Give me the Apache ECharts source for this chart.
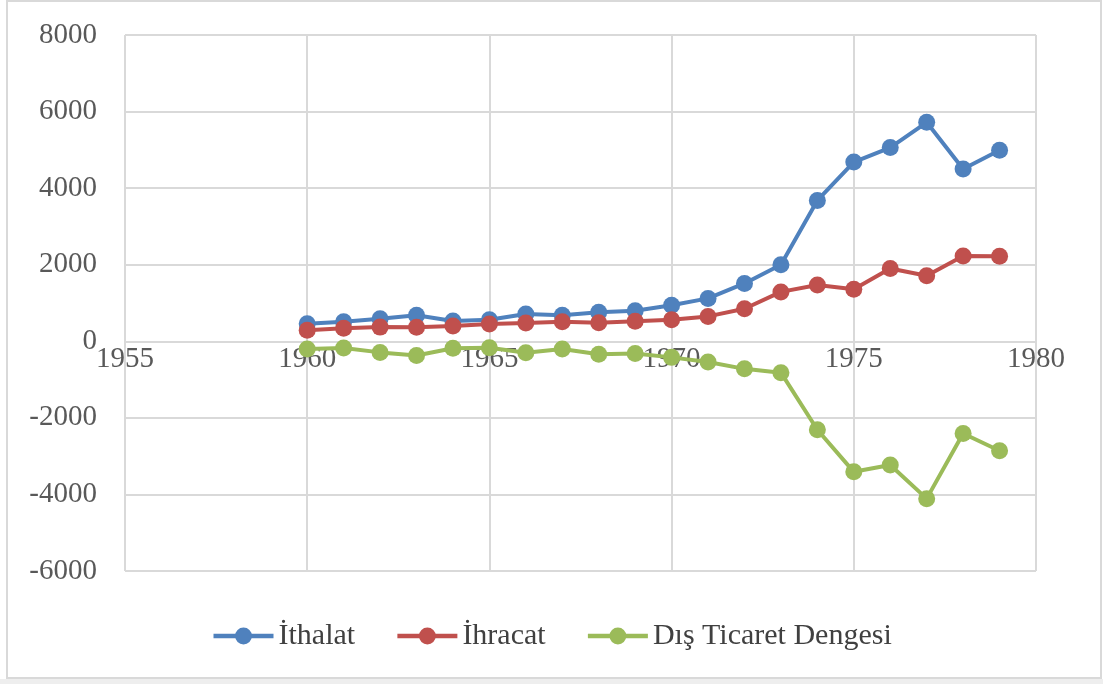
<!DOCTYPE html>
<html>
<head>
<meta charset="utf-8">
<script src="https://cdn.jsdelivr.net/npm/echarts@6/dist/echarts.min.js"></script>
<style>
  html, body { margin: 0; padding: 0; background: #fff; }
  #strip { position: absolute; left: 0; top: 679px; width: 1103px; height: 5px; background: #eeeeee; }
  #frame {
    position: absolute; left: 6px; top: 0; width: 1096px; height: 679px;
    box-sizing: border-box; border: 2px solid #d9d9d9; background: #fff;
  }
  #main { position: absolute; left: 0; top: 0; width: 1103px; height: 684px; }
</style>
</head>
<body>
<div id="strip"></div>
<div id="frame"></div>
<div id="main"></div>
<script>
  // years and values (million $)
  const years = [1960, 1961, 1962, 1963, 1964, 1965, 1966, 1967, 1968, 1969,
                 1970, 1971, 1972, 1973, 1974, 1975, 1976, 1977, 1978, 1979];
  const ithalat = [460, 510, 590, 680, 530, 565, 715, 680, 760, 800,
                   940, 1120, 1510, 2000, 3680, 4680, 5060, 5720, 4500, 4990];
  const ihracat = [290, 340, 370, 368, 400, 450, 475, 510, 485, 525,
                   560, 650, 850, 1290, 1470, 1360, 1900, 1710, 2230, 2220];
  const denge = [-200, -175, -290, -370, -180, -170, -300, -200, -340, -320,
                 -420, -540, -720, -820, -2310, -3410, -3230, -4110, -2410, -2860];

  const yTicks = { min: -6000, max: 8000, step: 2000 };
  const xTicks = { min: 1955, max: 1980, step: 5 };

  const pair = arr => years.map((y, i) => [y, arr[i]]);

  const gridBox = { left: 125, right: 67, top: 35, bottom: 113 };
  const plotH = 684 - gridBox.top - gridBox.bottom;
  const zeroFromBottom = plotH * (0 - yTicks.min) / (yTicks.max - yTicks.min);

  const chart = echarts.init(document.getElementById('main'));
  const font = '"Liberation Serif", "Times New Roman", serif';

  const mkSeries = (name, arr, color) => ({
    name,
    type: 'line',
    data: pair(arr),
    symbol: 'circle',
    symbolSize: 17,
    lineStyle: { color, width: 4 },
    itemStyle: { color },
    animation: false
  });

  chart.setOption({
    animation: false,
    grid: gridBox,
    xAxis: {
      type: 'value',
      position: 'bottom',
      offset: -zeroFromBottom,
      min: xTicks.min, max: xTicks.max, interval: xTicks.step,
      axisLine: { onZero: false, lineStyle: { color: '#d9d9d9', width: 2 } },
      axisTick: { show: false },
      axisLabel: { color: '#595959', fontFamily: font, fontSize: 29, margin: 4,
                   showMinLabel: true, showMaxLabel: true, formatter: v => String(v) },
      splitLine: { show: true, lineStyle: { color: '#d9d9d9', width: 2 } }
    },
    yAxis: {
      type: 'value',
      min: yTicks.min, max: yTicks.max, interval: yTicks.step,
      axisLine: { show: false, onZero: false },
      axisTick: { show: false },
      axisLabel: { color: '#595959', fontFamily: font, fontSize: 29, margin: 28,
                   formatter: v => String(v) },
      splitLine: { show: true, lineStyle: { color: '#d9d9d9', width: 2 } }
    },
    legend: {
      top: 616,
      left: 'center',
      itemWidth: 60,
      itemHeight: 21,
      itemGap: 40,
      lineStyle: { width: 4.5 },
      textStyle: { color: '#404040', fontFamily: font, fontSize: 30, padding: [0, 0, 0, 0] },
      data: ['İthalat', 'İhracat', 'Dış Ticaret Dengesi']
    },
    series: [
      mkSeries('İthalat', ithalat, '#4f81bd'),
      mkSeries('İhracat', ihracat, '#c0504d'),
      mkSeries('Dış Ticaret Dengesi', denge, '#9bbb59')
    ]
  });
</script>
</body>
</html>
